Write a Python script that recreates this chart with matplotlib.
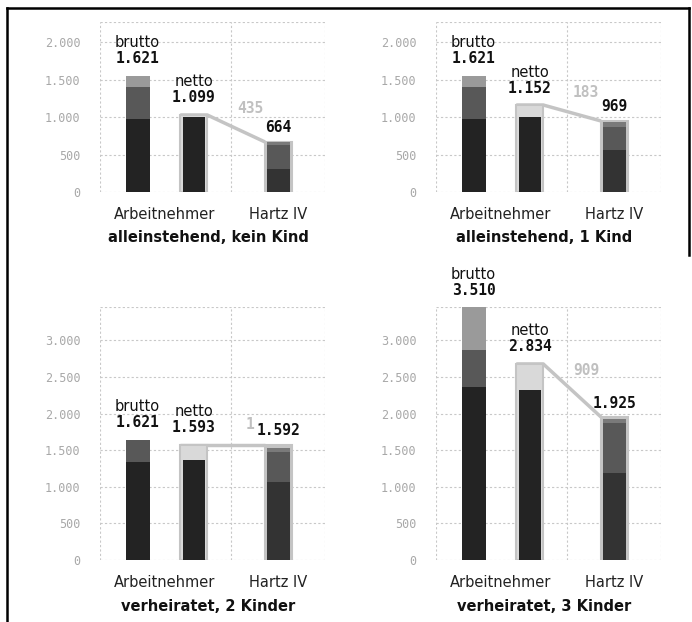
import numpy as np
import matplotlib.pyplot as plt
from matplotlib.lines import Line2D

# --- data ---
titles = ['alleinstehend, kein Kind', 'alleinstehend, 1 Kind',
          'verheiratet, 2 Kinder', 'verheiratet, 3 Kinder']
categories = ['Arbeitnehmer', 'Hartz IV']

# brutto bar: cumulative tops of the three stacked segments
brutto_dark = [973, 973, 1339, 2363]
brutto_mid = [1400, 1400, 1640, 2869]
brutto_light = [1547, 1547, 1640, 3456]
brutto_label = [1621, 1621, 1621, 3510]

# netto bar: dark part and light-grey box
netto_dark = [1000, 1000, 1366, 2322]
netto_box = [1027, 1160, 1571, 2678]
netto_label = [1099, 1152, 1593, 2834]

# Hartz IV bar: cumulative tops
hartz_dark = [307, 560, 1066, 1188]
hartz_mid = [627, 867, 1475, 1871]
hartz_light = [667, 933, 1530, 1926]
hartz_box = [667, 947, 1571, 1953]
hartz_label = [664, 969, 1592, 1925]

diff_label = [435, 183, 1, 909]

y_ticks = [[0, 500, 1000, 1500, 2000]] * 2 + [[0, 500, 1000, 1500, 2000, 2500, 3000]] * 2
y_top = [2267, 2267, 3456, 3456]


def fmt(v):
    return f'{v:,}'.replace(',', '.')


W, H = 692, 622
fig = plt.figure(figsize=(W / 100, H / 100), dpi=100)

# axes boxes in pixels: left, top, right, bottom
boxes = [(100, 22, 325, 192), (436, 22, 661, 192),
         (100, 307, 325, 560), (436, 307, 661, 560)]

grid_kw = dict(color='#c8c8c8', lw=0.8, ls=(0, (2, 2)), zorder=0)
mono = 'DejaVu Sans Mono'

for i, (l, t, r, b) in enumerate(boxes):
    ax = fig.add_axes([l / W, 1 - b / H, (r - l) / W, (b - t) / H])
    ax.set_xlim(0, 3)
    ax.set_ylim(0, y_top[i])
    for s in ax.spines.values():
        s.set_visible(False)
    ax.set_facecolor('none')

    for yt in y_ticks[i]:
        ax.axhline(yt, **grid_kw)
    ax.axhline(y_top[i], **grid_kw)
    for xv in [0, 1.75, 3]:
        ax.axvline(xv, **grid_kw)

    xb, xn, xh = 0.5, 1.25, 2.38
    bw, box_w = 0.32, 0.36

    # brutto stack
    ax.bar(xb, brutto_dark[i], bw, color='#232323', zorder=2)
    ax.bar(xb, brutto_mid[i] - brutto_dark[i], bw, bottom=brutto_dark[i], color='#585858', zorder=2)
    ax.bar(xb, brutto_light[i] - brutto_mid[i], bw, bottom=brutto_mid[i], color='#9a9a9a', zorder=2)

    # netto box + dark bar
    ax.bar(xn, netto_box[i], box_w, color='#d9d9d9', edgecolor='#c4c4c4', lw=1.5, zorder=2)
    ax.bar(xn, netto_dark[i], bw - 0.02, color='#232323', zorder=3)

    # hartz box + stack
    ax.bar(xh, hartz_box[i], box_w, color='#c4c4c4', edgecolor='#c4c4c4', lw=1.5, zorder=2)
    ax.bar(xh, hartz_dark[i], bw - 0.02, color='#333333', zorder=3)
    ax.bar(xh, hartz_mid[i] - hartz_dark[i], bw - 0.02, bottom=hartz_dark[i], color='#585858', zorder=3)
    ax.bar(xh, hartz_light[i] - hartz_mid[i], bw - 0.02, bottom=hartz_mid[i], color='#7a7a7a', zorder=3)

    # connecting line netto -> hartz
    ax.add_line(Line2D([xn - box_w / 2, xn + box_w / 2, xh - box_w / 2],
                       [netto_box[i], netto_box[i], hartz_box[i]],
                       color='#c4c4c4', lw=2.5, zorder=1, solid_capstyle='butt'))

    # labels above bars
    def lab(x, y, name, val, dv=17, dn=33):
        if name:
            ax.annotate(name, (x, y), xytext=(0, dn), textcoords='offset pixels',
                        ha='center', va='center', fontsize=10.5, color='#111111',
                        annotation_clip=False)
        ax.annotate(fmt(val), (x, y), xytext=(0, dv), textcoords='offset pixels',
                    ha='center', va='center', fontsize=10.5, fontweight='bold',
                    family=mono, color='#111111', annotation_clip=False)

    lab(xb, min(brutto_light[i], y_top[i]), 'brutto', brutto_label[i])
    lab(xn, netto_box[i], 'netto', netto_label[i])
    lab(xh, hartz_box[i], None, hartz_label[i], dv=14)

    ax.annotate(str(diff_label[i]), (2.0, (netto_box[i] + hartz_box[i]) / 2),
                xytext=(0, 20), textcoords='offset pixels', ha='center', va='center',
                fontsize=10.5, color='#c0c0c0', family=mono, fontweight='bold')

    ax.set_yticks(y_ticks[i])
    ax.set_yticklabels([fmt(v) for v in y_ticks[i]], family=mono, fontsize=8.5, color='#a8a8a8')
    ax.set_xticks([0.86, xh])
    ax.set_xticklabels(categories, fontsize=10.5, color='#222222')
    ax.tick_params(length=0)
    ax.tick_params(axis='y', pad=14)
    ax.tick_params(axis='x', pad=11)
    ax.text(0.48, -0.27 if i < 2 else -0.185, titles[i], transform=ax.transAxes,
            ha='center', va='center', fontsize=10.5, fontweight='bold', color='#111111')

# outer frame
fig.add_artist(Line2D([7 / W, 7 / W], [0, 1 - 8 / H], transform=fig.transFigure, color='black', lw=1.8))
fig.add_artist(Line2D([7 / W, 689 / W], [1 - 8 / H, 1 - 8 / H], transform=fig.transFigure, color='black', lw=1.8))
fig.add_artist(Line2D([689 / W, 689 / W], [1 - 8 / H, 1 - 255 / H], transform=fig.transFigure, color='black', lw=1.8))

fig.savefig('out.png', dpi=100)
